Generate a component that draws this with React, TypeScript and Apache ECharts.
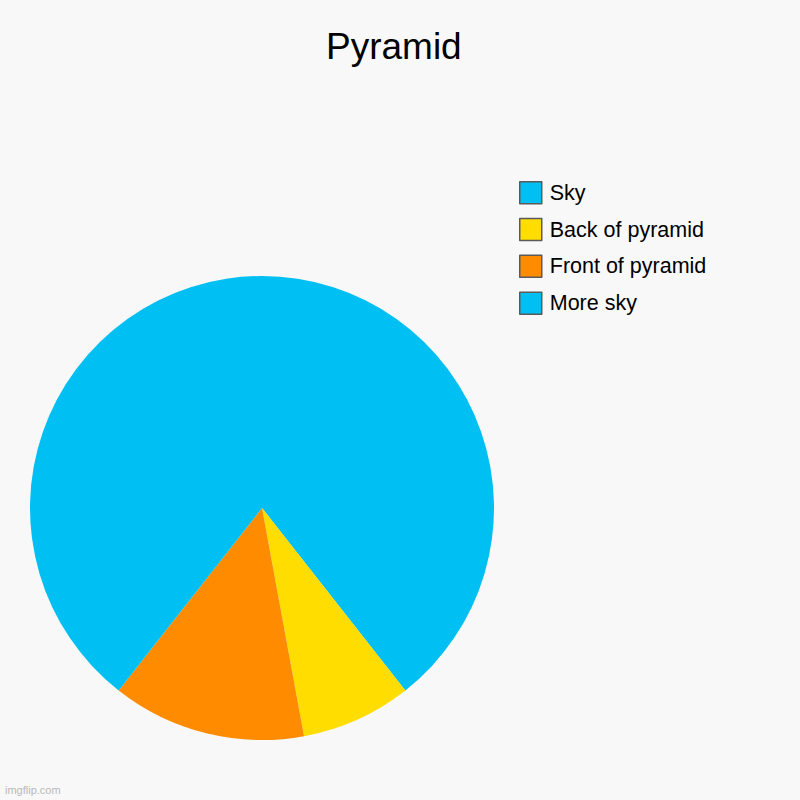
import React, { useEffect, useRef } from "react";
import * as echarts from "echarts";

const categories = ["Sky", "Back of pyramid", "Front of pyramid", "More sky"];
const values = [39.4, 7.7, 13.5, 39.4];
const colors = ["#00BFF3", "#FFDD00", "#FF8C00", "#00BFF3"];

export default function App() {
  const ref = useRef<HTMLDivElement>(null);
  useEffect(() => {
    if (!ref.current) return;
    const chart = echarts.init(ref.current, null, { renderer: "svg" });
    chart.setOption({
      animation: false,
      backgroundColor: "#F8F8F8",
      title: {
        text: "Pyramid",
        left: 326,
        top: 28,
        padding: 0,
        textStyle: { fontFamily: "Liberation Sans", fontSize: 37, fontWeight: "normal", color: "#000" },
      },
      legend: {
        orient: "vertical",
        left: 519,
        top: 181,
        padding: 0,
        itemWidth: 22,
        itemHeight: 22,
        itemGap: 13.3,
        icon: "rect",
        selectedMode: false,
        itemStyle: { borderColor: "#5a5a5a", borderWidth: 1.5 },
        textStyle: { fontFamily: "Liberation Sans", fontSize: 21.5, color: "#000", padding: [0, 0, 0, 3] },
        data: categories,
      },
      graphic: [
        {
          type: "text",
          left: 5,
          top: 784,
          style: { text: "imgflip.com", fontFamily: "Liberation Sans", fontSize: 11, fill: "#b8b8b8" },
        },
      ],
      series: [
        {
          type: "pie",
          center: [262, 508],
          radius: 232,
          startAngle: 90,
          clockwise: true,
          label: { show: false },
          labelLine: { show: false },
          emphasis: { disabled: true },
          itemStyle: { borderWidth: 0 },
          data: categories.map((name, i) => ({ name, value: values[i], itemStyle: { color: colors[i] } })),
        },
      ],
    });
    return () => chart.dispose();
  }, []);
  return <div ref={ref} style={{ position: "fixed", left: 0, top: 0, width: 800, height: 800 }} />;
}
